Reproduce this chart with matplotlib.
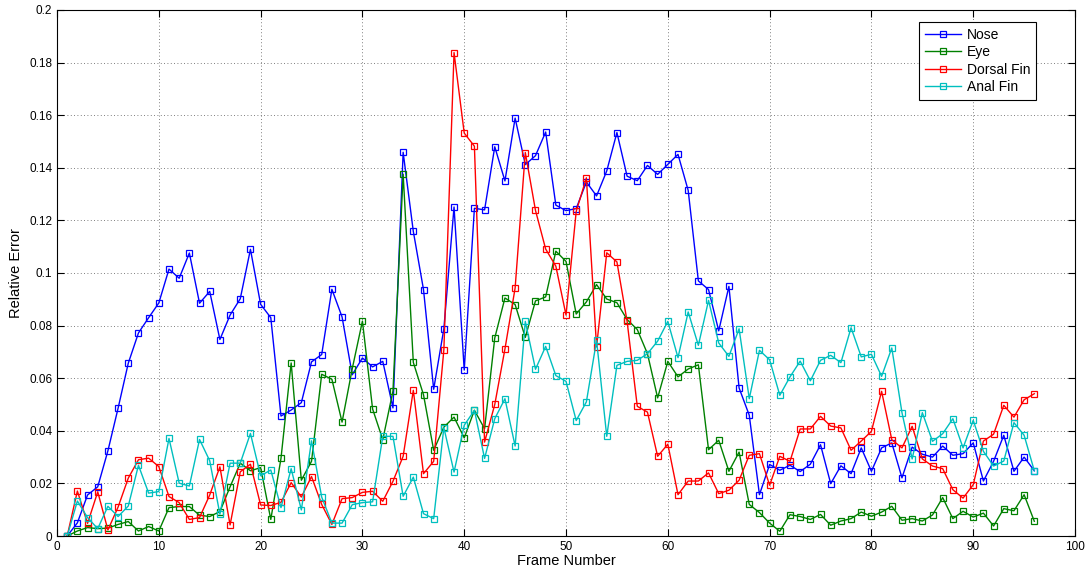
import numpy as np
import matplotlib
matplotlib.use("Agg")
import matplotlib.pyplot as plt
from matplotlib.ticker import FormatStrFormatter, MultipleLocator

frames = np.arange(1, 97)

nose = [0.0, 0.005, 0.0156, 0.0187, 0.0324, 0.0486, 0.0657, 0.0772, 0.083, 0.0886,
        0.1015, 0.098, 0.1076, 0.0885, 0.093, 0.0747, 0.084, 0.0902, 0.109, 0.0881,
        0.083, 0.0456, 0.0479, 0.0507, 0.0662, 0.069, 0.0938, 0.0833, 0.0613, 0.0677,
        0.0643, 0.0664, 0.0487, 0.1459, 0.1158, 0.0937, 0.0558, 0.0788, 0.1251, 0.0631,
        0.1246, 0.124, 0.148, 0.135, 0.1589, 0.1412, 0.1446, 0.1536, 0.1258, 0.1237,
        0.1245, 0.1346, 0.1293, 0.1388, 0.1534, 0.1368, 0.1351, 0.1409, 0.1375, 0.1413,
        0.1451, 0.1314, 0.097, 0.0937, 0.078, 0.0949, 0.0563, 0.0459, 0.0157, 0.0272,
        0.025, 0.0269, 0.0245, 0.0273, 0.0347, 0.0199, 0.0267, 0.0237, 0.0335, 0.0246,
        0.0335, 0.0354, 0.0221, 0.0338, 0.0311, 0.03, 0.0342, 0.0307, 0.0313, 0.0354,
        0.0209, 0.0284, 0.0383, 0.0246, 0.03, 0.0248]

eye = [0.0, 0.0019, 0.0032, 0.0028, 0.003, 0.0044, 0.0055, 0.0019, 0.0036, 0.0019,
       0.0108, 0.0112, 0.0112, 0.0079, 0.0074, 0.0093, 0.0187, 0.0277, 0.0248, 0.026,
       0.0063, 0.0295, 0.0658, 0.0212, 0.0284, 0.0615, 0.0596, 0.0433, 0.0636, 0.0817,
       0.0483, 0.0366, 0.0551, 0.1376, 0.066, 0.0537, 0.0326, 0.0414, 0.0452, 0.0373,
       0.0478, 0.0408, 0.0753, 0.0905, 0.088, 0.0755, 0.0894, 0.0909, 0.1083, 0.1044,
       0.0844, 0.089, 0.0956, 0.0901, 0.0887, 0.0823, 0.0785, 0.0693, 0.0525, 0.0664,
       0.0605, 0.0635, 0.0651, 0.0328, 0.0364, 0.0246, 0.0319, 0.012, 0.0089, 0.0049,
       0.0018, 0.0081, 0.0074, 0.0063, 0.0082, 0.0041, 0.0057, 0.0066, 0.0091, 0.0075,
       0.0091, 0.0113, 0.006, 0.0066, 0.0057, 0.008, 0.0146, 0.0066, 0.0094, 0.0072,
       0.0087, 0.0038, 0.0104, 0.0096, 0.0157, 0.0056]

dorsal = [0.0, 0.0171, 0.0048, 0.0168, 0.0023, 0.011, 0.022, 0.029, 0.0296, 0.0264,
          0.015, 0.0127, 0.0063, 0.007, 0.0156, 0.0263, 0.0042, 0.0244, 0.0273, 0.0118,
          0.0116, 0.0128, 0.0203, 0.0148, 0.0226, 0.012, 0.0044, 0.0142, 0.0146, 0.0166,
          0.017, 0.0132, 0.0208, 0.0303, 0.0554, 0.0237, 0.0284, 0.0708, 0.1838, 0.1532,
          0.1482, 0.0357, 0.05, 0.0711, 0.0943, 0.1458, 0.1238, 0.1091, 0.1026, 0.084,
          0.1234, 0.1362, 0.0719, 0.1077, 0.1042, 0.0816, 0.0493, 0.0471, 0.0303, 0.0349,
          0.0157, 0.0209, 0.0209, 0.024, 0.0161, 0.0174, 0.0212, 0.0307, 0.0313, 0.0193,
          0.0303, 0.0284, 0.0407, 0.0407, 0.0455, 0.0418, 0.0411, 0.0326, 0.0361, 0.0398,
          0.055, 0.0366, 0.0335, 0.0417, 0.0293, 0.0266, 0.0256, 0.0176, 0.0144, 0.0195,
          0.0361, 0.0387, 0.0497, 0.0452, 0.0518, 0.0541]

anal = [0.0, 0.0133, 0.007, 0.0028, 0.0113, 0.0074, 0.0114, 0.0269, 0.0163, 0.0169,
        0.0371, 0.0201, 0.019, 0.0367, 0.0286, 0.0083, 0.0277, 0.0277, 0.039, 0.0229,
        0.0251, 0.0108, 0.0256, 0.0099, 0.0362, 0.0148, 0.0049, 0.0049, 0.0119, 0.0127,
        0.013, 0.0379, 0.0379, 0.0151, 0.0224, 0.0085, 0.0066, 0.0412, 0.0243, 0.0421,
        0.0478, 0.0295, 0.0446, 0.0522, 0.0342, 0.0816, 0.0634, 0.0721, 0.061, 0.0588,
        0.0439, 0.051, 0.0744, 0.0379, 0.0649, 0.0664, 0.0668, 0.0693, 0.0741, 0.0816,
        0.0678, 0.0852, 0.0725, 0.0896, 0.0734, 0.0683, 0.0788, 0.0522, 0.0706, 0.067,
        0.0535, 0.0605, 0.0665, 0.059, 0.0668, 0.0687, 0.0659, 0.0792, 0.0681, 0.0691,
        0.0607, 0.0715, 0.0469, 0.0293, 0.0469, 0.036, 0.0389, 0.0446, 0.0335, 0.044,
        0.0322, 0.0266, 0.0285, 0.0431, 0.0383, 0.0248]

series = [("Nose", nose, (0, 0, 1)),
          ("Eye", eye, (0, 0.5, 0)),
          ("Dorsal Fin", dorsal, (1, 0, 0)),
          ("Anal Fin", anal, (0, 0.75, 0.75))]

plt.rcParams["font.family"] = ["Liberation Sans", "DejaVu Sans"]

fig = plt.figure(figsize=(10.86, 5.74), dpi=100)
ax = fig.add_axes([0.0525, 0.0662, 0.9374, 0.9164])

for name, vals, col in series:
    ax.plot(frames, vals, color=col, lw=1.0, marker="s", markersize=5,
            markerfacecolor="none", markeredgecolor=col, markeredgewidth=0.9,
            label=name)

ax.set_xlim(0, 100)
ax.set_ylim(0, 0.2)
ax.xaxis.set_major_locator(MultipleLocator(10))
ax.yaxis.set_major_locator(MultipleLocator(0.02))
ax.yaxis.set_major_formatter(FormatStrFormatter("%g"))
ax.xaxis.set_major_formatter(FormatStrFormatter("%g"))
ax.grid(True, linestyle=(0, (1, 3)), color="#555555", linewidth=0.6)
ax.tick_params(direction="in", top=True, right=True, labelsize=8.5, length=5, width=0.8)
for s in ax.spines.values():
    s.set_linewidth(0.8)

ax.set_xlabel("Frame Number", fontsize=10.5, labelpad=1)
ax.set_ylabel("Relative Error", fontsize=10.5, labelpad=4)

leg = ax.legend(loc="upper right", bbox_to_anchor=(0.9614, 0.9766), borderaxespad=0,
                fontsize=10, fancybox=False, framealpha=1, edgecolor="black",
                handlelength=2.6, handletextpad=0.4, labelspacing=0.25,
                borderpad=0.4)
leg.get_frame().set_linewidth(0.8)

fig.savefig("out.png", dpi=100)
